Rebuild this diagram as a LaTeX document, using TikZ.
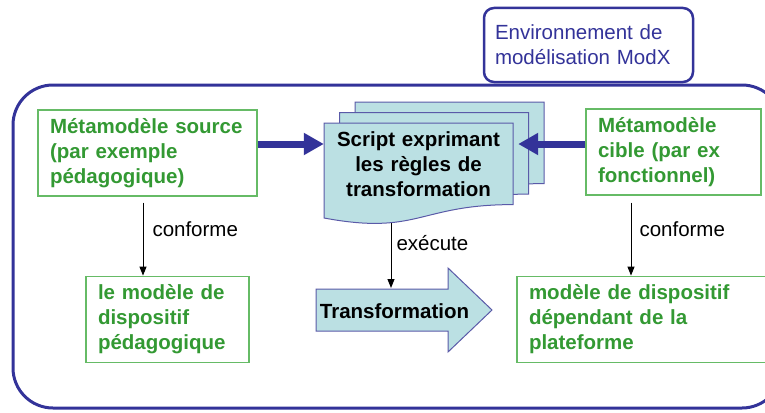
\documentclass[tikz,border=0pt]{standalone}
\usepackage{fontspec}
\setmainfont{Liberation Sans}
\usepackage{tikz}
\usetikzlibrary{positioning,arrows.meta}

\definecolor{modxblue}{HTML}{333399}
\definecolor{pagefill}{HTML}{BBE0E3}
\definecolor{pageline}{HTML}{5A5AA8}
\definecolor{metagreen}{HTML}{339933}
\definecolor{metaline}{HTML}{66BB66}

\tikzset{
  txt/.style={font=\fontsize{20.5}{25}\selectfont},
  btxt/.style={font=\fontsize{20.5}{25}\selectfont\bfseries},
  meta/.style={btxt, draw=metaline, line width=1.2pt, text=metagreen,
    align=left, inner xsep=12pt, inner ysep=0pt, minimum height=86pt},
  frame/.style={draw=modxblue, line width=3pt, rounded corners=40pt},
  envbox/.style={txt, draw=modxblue, line width=2.5pt, rounded corners=10pt,
    fill=white, text=modxblue, align=left, inner xsep=11pt,
    minimum width=209pt, minimum height=74pt},
  page/.style={draw=pageline, line width=1pt, fill=pagefill},
  feed/.style={draw=modxblue, line width=7pt,
    -{Triangle[length=20pt,width=21pt]}},
  conf/.style={draw=black, line width=1pt, -{Triangle[length=9pt,width=7pt]}},
  lbl/.style={txt, inner sep=0pt}
}

\begin{document}
\begin{tikzpicture}[x=1pt, y=-1pt]
  \useasboundingbox (0,0) rectangle (765,412);

  % Frame and title
  \draw[frame] (13,85) rectangle (782,408);
  \node[envbox, text width=187pt] (env) at (588.5,45)
    {Environnement de\\modélisation ModX};

  % Define nodes
  \node[meta, text width=195pt] (src) at (147.5,153)
    {Métamodèle source\\(par exemple\\pédagogique)};
  \node[meta, text width=151pt] (cible) at (673.5,152)
    {Métamodèle\\cible (par ex\\fonctionnel)};
  \node[meta, text width=139pt, below=79pt of src, xshift=20pt] (mdl)
    {le modèle de\\dispositif\\pédagogique};
  \node[meta, text width=230pt, below=80pt of cible, xshift=-29.5pt] (plat)
    {modèle de dispositif\\dépendant de la\\plateforme};

  % Script pages
  \foreach \k in {2,1,0}
    \draw[page, shift={(15.5*\k,-10.5*\k)}] (513,123) -- (513,204.6)
      .. controls (418.5,204.6) and (418.5,235.6) .. (324,218)
      -- (324,123) -- cycle;
  \node[btxt, align=center, text width=185pt, minimum width=189pt,
    minimum height=82pt, inner sep=0pt] (script) at (418.5,164)
    {Script exprimant\\les règles de\\transformation};

  % Transformation arrow
  \draw[page] (316,289) -- (448,289) -- (448,268) -- (492,310)
    -- (448,352) -- (448,331) -- (316,331) -- cycle;
  \node[btxt, inner sep=0pt] (trf) at (394.5,311) {Transformation};
  \coordinate (shaft) at (391,288);

  % Connect the nodes
  \draw[feed] ([yshift=9pt]src.east) -- ([yshift=20pt]script.west);
  \draw[feed] ([yshift=8pt]cible.west) -- ([xshift=5pt,yshift=20pt]script.east);
  \draw[conf] ([xshift=-4.5pt,yshift=-6pt]src.south)
    -- ([xshift=-4.5pt]src.south |- mdl.north)
    node[lbl, pos=0.37, right=9pt] {conforme};
  \draw[conf] ([xshift=-42.5pt,yshift=-7pt]cible.south)
    -- ([xshift=-42.5pt]cible.south |- plat.north)
    node[lbl, pos=0.37, right=8pt] {conforme};
  \draw[conf] ([xshift=-27.5pt,yshift=-18pt]script.south) -- (shaft)
    node[lbl, pos=0.3, right=5pt] {exécute};
\end{tikzpicture}
\end{document}
